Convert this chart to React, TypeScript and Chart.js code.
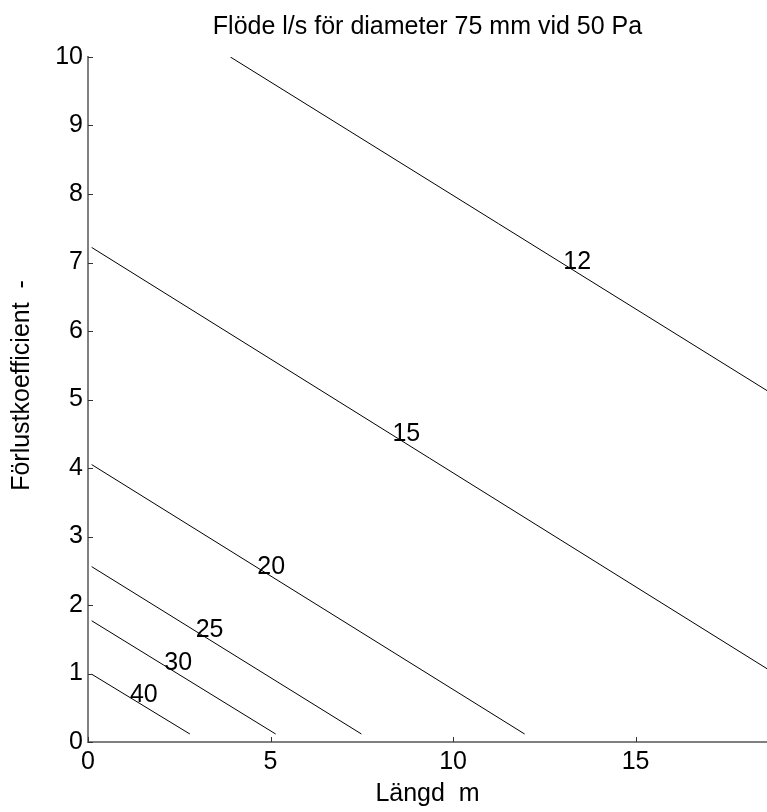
import React, { useEffect, useRef } from "react";
import { Chart, registerables } from "chart.js";

Chart.register(...registerables);

// Axis ranges and ticks
const X_MIN = 0;
const X_MAX = 18.6;
const Y_MIN = 0;
const Y_MAX = 10;
const xTickValues = [0, 5, 10, 15];
const yTickValues = [0, 1, 2, 3, 4, 5, 6, 7, 8, 9, 10];

const TITLE = "Flöde l/s för diameter 75 mm vid 50 Pa";
const X_LABEL = "Längd  m";
const Y_LABEL = "Förlustkoefficient  -";

// Contour levels (flow l/s)
const levelNames = ["12", "15", "20", "25", "30", "40"];

// Contour lines
const c12X = [3.9, 18.6];
const c12Y = [10, 5.13];
const c15X = [0.1, 18.6];
const c15Y = [7.22, 1.07];
const c20X = [0.1, 11.96];
const c20Y = [4.05, 0.117];
const c25X = [0.1, 7.49];
const c25Y = [2.56, 0.117];
const c30X = [0.1, 5.14];
const c30Y = [1.77, 0.117];
const c40X = [0.1, 2.79];
const c40Y = [0.99, 0.117];

// Contour label positions
const labelX = [13.4, 8.72, 5.02, 3.33, 2.47, 1.53];
const labelY = [7.0, 4.49, 2.56, 1.64, 1.15, 0.69];

const FONT = "'Liberation Sans', Arial, Helvetica, sans-serif";
const FS = 25;

const toPts = (xs: number[], ys: number[]) => xs.map((x, i) => ({ x, y: ys[i] }));

const inwardTicksAndLabels = {
  id: "inwardTicksAndLabels",
  afterDraw(chart: any) {
    const { ctx, chartArea, scales } = chart;
    const xs = scales.x;
    const ys = scales.y;
    ctx.save();
    ctx.strokeStyle = "#333333";
    ctx.lineWidth = 1;
    const tl = 5;
    xTickValues.forEach((v) => {
      const px = Math.round(xs.getPixelForValue(v)) + 0.5;
      ctx.beginPath();
      ctx.moveTo(px, chartArea.bottom);
      ctx.lineTo(px, chartArea.bottom - tl);
      ctx.stroke();
    });
    yTickValues.forEach((v) => {
      const py = Math.round(ys.getPixelForValue(v)) + 0.5;
      ctx.beginPath();
      ctx.moveTo(chartArea.left, py);
      ctx.lineTo(chartArea.left + tl, py);
      ctx.stroke();
    });
    // contour labels
    ctx.fillStyle = "#000000";
    ctx.font = `${FS}px ${FONT}`;
    ctx.textAlign = "center";
    ctx.textBaseline = "middle";
    levelNames.forEach((t, i) => {
      ctx.fillText(t, xs.getPixelForValue(labelX[i]), ys.getPixelForValue(labelY[i]));
    });
    // title centred over the axes
    ctx.textBaseline = "alphabetic";
    ctx.fillText(TITLE, (chartArea.left + chartArea.right) / 2, 34);
    // y-axis label
    ctx.save();
    ctx.translate(22, (chartArea.top + chartArea.bottom) / 2 - 14);
    ctx.rotate(-Math.PI / 2);
    ctx.textBaseline = "middle";
    ctx.fillText(Y_LABEL, 0, 0);
    ctx.restore();
    ctx.restore();
  },
};

export default function App() {
  const canvasRef = useRef<HTMLCanvasElement | null>(null);

  useEffect(() => {
    const canvas = canvasRef.current;
    if (!canvas) return;
    const series = [
      toPts(c12X, c12Y),
      toPts(c15X, c15Y),
      toPts(c20X, c20Y),
      toPts(c25X, c25Y),
      toPts(c30X, c30Y),
      toPts(c40X, c40Y),
    ];
    const chart = new Chart(canvas, {
      type: "scatter",
      data: {
        datasets: series.map((d, i) => ({
          label: levelNames[i],
          data: d,
          showLine: true,
          borderColor: "#000000",
          backgroundColor: "#000000",
          borderWidth: 1,
          pointRadius: 0,
          tension: 0,
        })),
      },
      options: {
        responsive: false,
        animation: false,
        devicePixelRatio: 1,
        layout: { padding: { left: 0, right: 0, top: 57, bottom: 0 } },
        plugins: {
          legend: { display: false },
          tooltip: { enabled: false },
          title: { display: false },
        },
        scales: {
          x: {
            type: "linear",
            min: X_MIN,
            max: X_MAX,
            grid: { display: false, drawTicks: false },
            border: { display: true, color: "#808080", width: 2 },
            ticks: {
              stepSize: 5,
              includeBounds: false,
              color: "#000000",
              padding: 5,
              maxRotation: 0,
              font: { family: FONT, size: FS },
            },
            title: {
              display: true,
              text: X_LABEL,
              color: "#000000",
              font: { family: FONT, size: FS },
              padding: { top: 0, bottom: 3 },
            },
            afterFit: (s: any) => {
              s.height = 70;
            },
          },
          y: {
            type: "linear",
            min: Y_MIN,
            max: Y_MAX,
            grid: { display: false, drawTicks: false },
            border: { display: true, color: "#808080", width: 2 },
            ticks: {
              stepSize: 1,
              color: "#000000",
              padding: 5,
              font: { family: FONT, size: FS },
            },
            title: { display: false },
            afterFit: (s: any) => {
              s.width = 88;
            },
          },
        },
      },
      plugins: [inwardTicksAndLabels],
    });
    return () => chart.destroy();
  }, []);

  return (
    <div style={{ position: "absolute", left: 0, top: 0, width: 767, height: 812, background: "#ffffff" }}>
      <canvas ref={canvasRef} width={767} height={812} style={{ display: "block" }} />
    </div>
  );
}
